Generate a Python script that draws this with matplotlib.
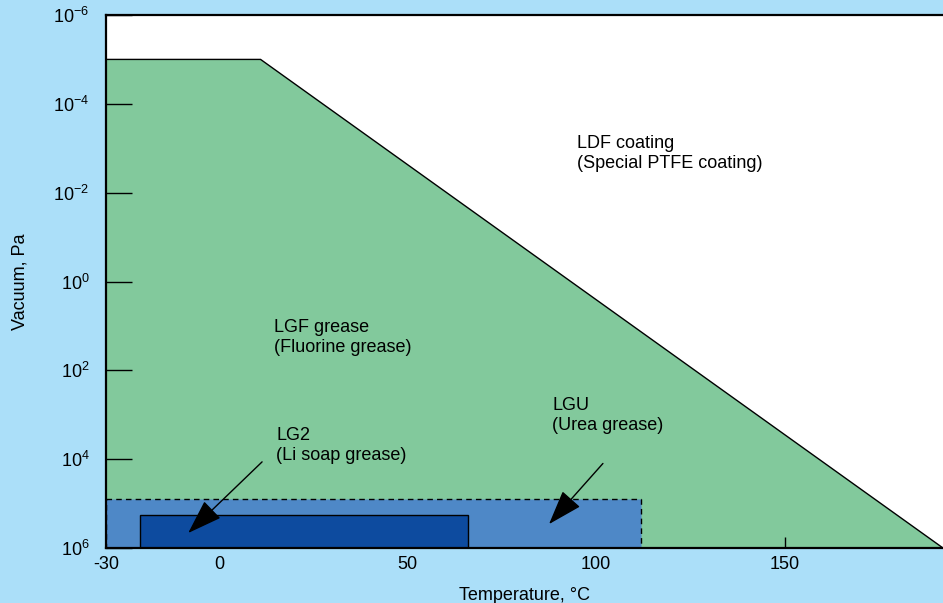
import matplotlib
matplotlib.use('Agg')
import matplotlib.pyplot as plt
from matplotlib.patches import Polygon, Rectangle
from matplotlib.ticker import FixedLocator, FixedFormatter, NullLocator

plt.rcParams['font.family'] = ['Liberation Sans', 'DejaVu Sans']
plt.rcParams['mathtext.fontset'] = 'custom'
plt.rcParams['mathtext.rm'] = 'Liberation Sans'
plt.rcParams['mathtext.it'] = 'Liberation Sans'

# --- dados ---
x_ticks = [-30, 0, 50, 100, 150]
y_exp = [-6, -4, -2, 0, 2, 4, 6]
x_lim = (-30, 192)

# região LDF/LGF (verde): temperatura x vácuo
lgf_temp = [-30, 11, 192, -30]
lgf_vac = [1e-5, 1e-5, 1e6, 1e6]

# LGU (retângulo tracejado)
lgu_temp = (-30, 112)
lgu_vac = (8e4, 1e6)

# LG2 (retângulo escuro)
lg2_temp = (-21, 66)
lg2_vac = (1.8e5, 1e6)

# setas: (cauda, ponta)
seta_lg2 = ((11.4, 1.15e4), (-8.2, 4.6e5))
seta_lgu = ((101.8, 1.25e4), (87.5, 2.9e5))

textos = [
    (95, 5e-4, 'LDF coating\n(Special PTFE coating)'),
    (14.6, 7, 'LGF grease\n(Fluorine grease)'),
    (88.3, 400, 'LGU\n(Urea grease)'),
    (15.1, 1900, 'LG2\n(Li soap grease)'),
]

fundo = '#abdff9'
fig = plt.figure(figsize=(9.43, 6.03), dpi=100, facecolor=fundo)
ax = fig.add_axes([106/943, 1 - 548/603, 837/943, 533/603])
ax.set_facecolor('white')
ax.set_yscale('log')
ax.set_xlim(*x_lim)
ax.set_ylim(10.0**y_exp[-1], 10.0**y_exp[0])

ax.add_patch(Polygon(list(zip(lgf_temp, lgf_vac)), closed=True,
                     facecolor='#82c99c', edgecolor='black', linewidth=1.0, zorder=1))
ax.add_patch(Rectangle((lgu_temp[0], lgu_vac[0]), lgu_temp[1] - lgu_temp[0],
                       lgu_vac[1] - lgu_vac[0], facecolor='#4e88c7',
                       edgecolor='black', linestyle=(0, (4, 3)), linewidth=1.0, zorder=2))
ax.add_patch(Rectangle((lg2_temp[0], lg2_vac[0]), lg2_temp[1] - lg2_temp[0],
                       lg2_vac[1] - lg2_vac[0], facecolor='#0d4b9f',
                       edgecolor='black', linewidth=1.0, zorder=3))

for cauda, ponta in (seta_lg2, seta_lgu):
    ax.annotate('', xy=ponta, xytext=cauda, zorder=5,
                arrowprops=dict(arrowstyle='-|>,head_length=2.2,head_width=0.75',
                                color='black', linewidth=1.0, shrinkA=0, shrinkB=0))

for x, y, t in textos:
    ax.text(x, y, t, fontsize=13, va='top', ha='left', linespacing=1.25, zorder=6)

ax.xaxis.set_major_locator(FixedLocator(x_ticks))
ax.set_xticklabels([str(v) for v in x_ticks])
ax.yaxis.set_major_locator(FixedLocator([10.0**e for e in y_exp]))
ax.yaxis.set_major_formatter(FixedFormatter([r'$10^{%d}$' % e for e in y_exp]))
ax.yaxis.set_minor_locator(NullLocator())

ax.tick_params(axis='x', direction='in', length=8, width=1, pad=6, labelsize=13)
ax.tick_params(axis='y', direction='in', length=19, width=1, pad=12, labelsize=13)
for lado in ['left', 'bottom', 'top']:
    ax.spines[lado].set_linewidth(1.6)
    ax.spines[lado].set_zorder(10)
ax.spines['right'].set_visible(False)

ax.set_xlabel('Temperature, °C', fontsize=13)
ax.set_ylabel('Vacuum, Pa', fontsize=13)
ax.xaxis.set_label_coords(0.5, -0.073)
ax.yaxis.set_label_coords(-0.092, 0.5)

fig.savefig('out.png', dpi=100, facecolor=fundo)
